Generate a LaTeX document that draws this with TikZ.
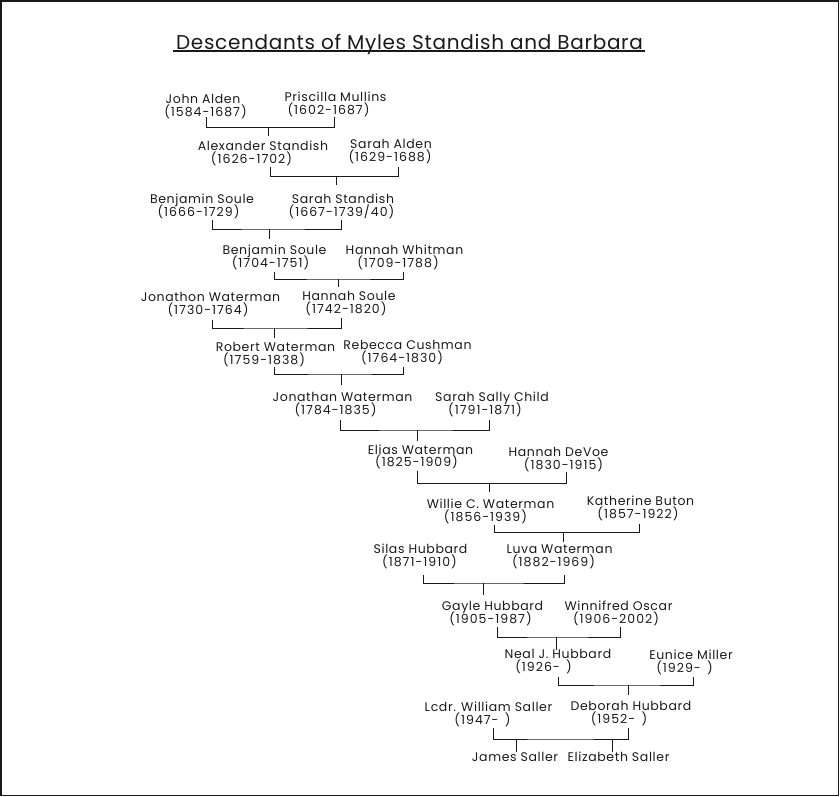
\documentclass[tikz,border=0pt]{standalone}
\usepackage{fontspec}
\setmainfont{Poppins}
\newfontfamily\nmfont[LetterSpace=5]{Poppins}
\newfontfamily\dtfont[LetterSpace=8]{Poppins}
\newfontfamily\ttlfont[LetterSpace=3.5]{Poppins}
\begin{document}
\begin{tikzpicture}[x=1pt,y=-1pt,
  pt/.style={font=\nmfont\fontsize{12.5}{14}\selectfont, anchor=base, yshift=-4.4pt, inner sep=0pt, text=black!90},
  dt/.style={font=\dtfont\fontsize{12.5}{14}\selectfont, anchor=base, yshift=-4.4pt, inner sep=0pt, text=black!90},
  ttl/.style={font=\ttlfont\fontsize{20}{24}\selectfont, anchor=base, yshift=-7pt, inner sep=0pt, text=black!90},
  ln/.style={line width=1pt, draw=black!90},
  frame/.style={line width=1.6pt, draw=black!90}]
\useasboundingbox (0,0) rectangle (840,797);
\draw[frame] (0.8,0.8) rectangle (838.4,795.6);
% title
\node[ttl] (title) at (409.5,43) {Descendants of Myles Standish and Barbara};
\coordinate (ua) at (173,51);
\coordinate (ub) at (645,51);
\draw[line width=1.4pt, draw=black!90] (ua) -- (ub);
% people
\node[pt] (n1a) at (203,99) {John Alden};
\node[dt] (d1a) at (205.5,112) {(1584-1687)};
\node[pt] (n1b) at (335.5,97) {Priscilla Mullins};
\node[dt] (d1b) at (328.5,110) {(1602-1687)};
\node[pt] (n2a) at (263,146) {Alexander Standish};
\node[dt] (d2a) at (251.5,159) {(1626-1702)};
\node[pt] (n2b) at (391,144) {Sarah Alden};
\node[dt] (d2b) at (390,157) {(1629-1688)};
\node[pt] (n3a) at (202,199) {Benjamin Soule};
\node[dt] (d3a) at (198.5,212) {(1666-1729)};
\node[pt] (n3b) at (343,199) {Sarah Standish};
\node[dt] (d3b) at (341.5,212) {(1667-1739/40)};
\node[pt] (n4a) at (274.5,250) {Benjamin Soule};
\node[dt] (d4a) at (270.5,263) {(1704-1751)};
\node[pt] (n4b) at (404.5,250) {Hannah Whitman};
\node[dt] (d4b) at (398,263) {(1709-1788)};
\node[pt] (n5a) at (210.5,297) {Jonathon Waterman};
\node[dt] (d5a) at (208,310) {(1730-1764)};
\node[pt] (n5b) at (349,296) {Hannah Soule};
\node[dt] (d5b) at (346,309) {(1742-1820)};
\node[pt] (n6a) at (275.5,347) {Robert Waterman};
\node[dt] (d6a) at (264,360) {(1759-1838)};
\node[pt] (n6b) at (407.5,345) {Rebecca Cushman};
\node[dt] (d6b) at (402,358) {(1764-1830)};
\node[pt] (n7a) at (342.5,397) {Jonathan Waterman};
\node[dt] (d7a) at (335.5,410) {(1784-1835)};
\node[pt] (n7b) at (492,397) {Sarah Sally Child};
\node[dt] (d7b) at (485,410) {(1791-1871)};
\node[pt] (n8a) at (420.5,450) {Elias Waterman};
\node[dt] (d8a) at (416.5,462) {(1825-1909)};
\node[pt] (n8b) at (558.5,452) {Hannah DeVoe};
\node[dt] (d8b) at (563.5,465) {(1830-1915)};
\node[pt] (n9a) at (490.5,504) {Willie C. Waterman};
\node[dt] (d9a) at (485.5,517) {(1856-1939)};
\node[pt] (n9b) at (640.5,501) {Katherine Buton};
\node[dt] (d9b) at (638,514) {(1857-1922)};
\node[pt] (n10a) at (420.5,549) {Silas Hubbard};
\node[dt] (d10a) at (419.5,562) {(1871-1910)};
\node[pt] (n10b) at (559.5,549) {Luva Waterman};
\node[dt] (d10b) at (553.5,562) {(1882-1969)};
\node[pt] (n11a) at (492.5,606) {Gayle Hubbard};
\node[dt] (d11a) at (490.5,619) {(1905-1987)};
\node[pt] (n11b) at (618.5,606) {Winnifred Oscar};
\node[dt] (d11b) at (616,619) {(1906-2002)};
\node[pt] (n12a) at (558,654) {Neal J. Hubbard};
\node[dt] (d12a) at (543.5,667) {(1926-\hspace{0.5em})};
\node[pt] (n12b) at (691,655) {Eunice Miller};
\node[dt] (d12b) at (684.5,668) {(1929-\hspace{0.5em})};
\node[pt] (n13a) at (488.5,707) {Lcdr. William Saller};
\node[dt] (d13a) at (482.5,720) {(1947-\hspace{0.5em})};
\node[pt] (n13b) at (631,706) {Deborah Hubbard};
\node[dt] (d13b) at (619,719) {(1952-\hspace{0.5em})};
\node[pt] (n14a) at (515,757) {James Saller};
\node[pt] (n14b) at (618.5,757) {Elizabeth Saller};
% connectors: couple bars and stems
\newcommand\couple[8]{%
  \coordinate (#1l) at (#2,#3);
  \coordinate (#1r) at (#4,#5);
  \coordinate (#1m) at (#7,#6);
  \coordinate (#1s) at (#7,#8);
  \draw[ln] (#1l) |- (#1m) -| (#1r);
  \draw[ln] (#1m) -- (#1s);}
\couple{c1}{206}{117}{334}{117}{127.5}{268}{136}
\couple{c2}{270.5}{167}{398.5}{167}{176.5}{336.5}{185}
\couple{c3}{212.5}{220}{341.5}{220}{229}{269}{239}
\couple{c4}{274}{272}{403}{272}{279}{338}{287}
\couple{c5}{212}{320}{341}{318}{328}{274}{338}
\couple{c6}{274}{367}{403}{367}{374}{341}{385}
\couple{c7}{340}{420}{489}{420}{430}{417}{441}
\couple{c8}{417.5}{471}{566}{472}{483.5}{489.5}{492}
\couple{c9}{494}{525}{639}{524}{532.5}{563}{542}
\couple{c10}{423}{575}{564}{575}{583}{483.5}{595}
\couple{c11}{497}{627}{620.5}{627}{637}{556}{650}
\couple{c12}{558}{677}{693}{677}{685}{628}{695}
% last couple: two children
\coordinate (c13l) at (493,728);
\coordinate (c13r) at (628,728);
\coordinate (c13m) at (560,739);
\draw[ln] (c13l) |- (c13m) -| (c13r);
\coordinate (c13a) at (516,739);
\coordinate (c13b) at (612,739);
\draw[ln] (c13a) -- (c13a |- n14a.north);
\draw[ln] (c13b) -- (c13b |- n14b.north);
\end{tikzpicture}
\end{document}
